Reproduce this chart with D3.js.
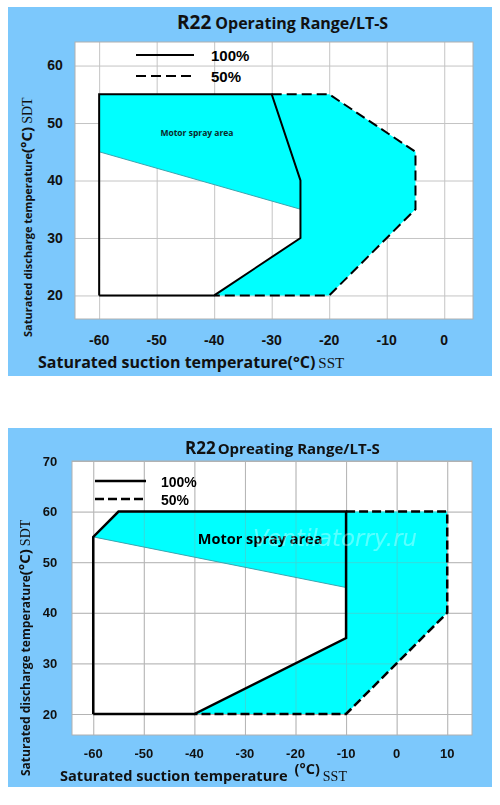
<!DOCTYPE html>
<html>
<head>
<meta charset="utf-8">
<script src="https://cdn.jsdelivr.net/npm/d3@7"></script>
<style>
  body { margin: 0; background: #fff; }
  svg { display: block; }
</style>
</head>
<body>
<div id="chart"></div>
<script>
// ---- top chart data (SST / SDT, °C) ----
const sstTicksTop = [-60, -50, -40, -30, -20, -10, 0];
const sdtTicksTop = [20, 30, 40, 50, 60];
const load100Top = [[-60, 20], [-60, 55], [-30, 55], [-25, 40], [-25, 30], [-40, 20], [-60, 20]];
const load50Top = [[-30, 55], [-20, 55], [-5, 45], [-5, 35], [-20, 20], [-40, 20]];
const sprayTop = [[-60, 45], [-25, 35]];
const cyanTop = [[-60, 55], [-20, 55], [-5, 45], [-5, 35], [-20, 20], [-40, 20], [-25, 30], [-25, 35], [-60, 45]];

// ---- bottom chart data ----
const sstTicksBot = [-60, -50, -40, -30, -20, -10, 0, 10];
const sdtTicksBot = [20, 30, 40, 50, 60, 70];
const load100Bot = [[-60, 20], [-60, 55], [-55, 60], [-10, 60], [-10, 35], [-40, 20], [-60, 20]];
const load50Bot = [[-10, 60], [10, 60], [10, 40], [0, 30], [-10, 20], [-40, 20]];
const sprayBot = [[-60, 55], [-10, 45]];
const cyanBot = [[-60, 55], [-55, 60], [10, 60], [10, 40], [0, 30], [-10, 20], [-40, 20], [-10, 35], [-10, 45]];

const legendLabels = ['100%', '50%'];

const svg = d3.select('#chart').append('svg')
  .attr('width', 500).attr('height', 805);

const BOLD = "'Liberation Sans', Arial, sans-serif";
const UI = "'Open Sans', 'Noto Sans', sans-serif";
const SERIF = "'Liberation Serif', 'DejaVu Serif', serif";

function drawPanel(o) {
  const g = svg.append('g');
  // blue background
  g.append('rect').attr('x', 8).attr('y', o.bgTop).attr('width', 484).attr('height', o.bgH)
    .attr('fill', '#7cc8fc');

  const x = d3.scaleLinear().domain(o.xDom).range([o.left, o.right]);
  const y = d3.scaleLinear().domain(o.yDom).range([o.bottom, o.top]);

  g.append('rect').attr('x', o.left).attr('y', o.top)
    .attr('width', o.right - o.left).attr('height', o.bottom - o.top)
    .attr('fill', '#fff');

  // grid lines (axis ticks stretched across the plot)
  function grid(parent, colour) {
    parent.append('g')
      .attr('transform', `translate(0,${o.bottom})`)
      .call(d3.axisBottom(x).tickValues(o.xTicks).tickSize(-(o.bottom - o.top)).tickFormat(''))
      .call(a => a.select('.domain').remove())
      .call(a => a.selectAll('line').attr('stroke', colour));
    parent.append('g')
      .attr('transform', `translate(${o.left},0)`)
      .call(d3.axisLeft(y).tickValues(o.yTicks).tickSize(-(o.right - o.left)).tickFormat(''))
      .call(a => a.select('.domain').remove())
      .call(a => a.selectAll('line').attr('stroke', colour));
  }
  grid(g.append('g'), '#c4c4c4');

  const line = d3.line().x(d => x(d[0])).y(d => y(d[1]));

  g.append('path').attr('d', line(o.cyan) + 'Z').attr('fill', '#00ffff');
  if (o.gridOver) {
    // grid faintly visible through the fill
    grid(g.append('g').attr('opacity', 0.35), '#999');
  }

  g.append('path').attr('d', line(o.spray)).attr('fill', 'none')
    .attr('stroke', '#3aa6b0').attr('stroke-width', 1);

  g.append('path').attr('d', line(o.l50)).attr('fill', 'none')
    .attr('stroke', '#000').attr('stroke-width', o.lw)
    .attr('stroke-dasharray', o.dash);
  g.append('path').attr('d', line(o.l100)).attr('fill', 'none')
    .attr('stroke', '#000').attr('stroke-width', o.lw).attr('stroke-linejoin', 'miter');

  // plot border
  g.append('rect').attr('x', o.left).attr('y', o.top)
    .attr('width', o.right - o.left).attr('height', o.bottom - o.top)
    .attr('fill', 'none').attr('stroke', '#b0b0b0').attr('stroke-width', 1);

  // tick labels
  g.append('g').selectAll('text').data(o.xTicks).join('text')
    .attr('x', d => x(d)).attr('y', o.xLabelY)
    .attr('text-anchor', 'middle')
    .style('font-family', BOLD).style('font-weight', 'bold').style('font-size', o.tickFs + 'px')
    .attr('fill', '#111').text(d => d);
  g.append('g').selectAll('text').data(o.yTicks).join('text')
    .attr('x', o.yLabelX).attr('y', d => y(d)).attr('dy', '0.35em')
    .attr('text-anchor', 'middle')
    .style('font-family', BOLD).style('font-weight', 'bold').style('font-size', o.tickFs + 'px')
    .attr('fill', '#111').text(d => d);

  // legend
  const lg = g.append('g');
  legendLabels.forEach((lab, i) => {
    const ly = o.legY[i];
    lg.append('line').attr('x1', o.legX1).attr('x2', o.legX2).attr('y1', ly).attr('y2', ly)
      .attr('stroke', '#000').attr('stroke-width', o.lw)
      .attr('stroke-dasharray', i === 1 ? o.dash : null);
    lg.append('text').attr('x', o.legTx).attr('y', ly).attr('dy', '0.4em')
      .style('font-family', BOLD).style('font-weight', 'bold').style('font-size', o.legFs + 'px')
      .text(lab);
  });

  // title
  const t = g.append('text').attr('x', o.titleX).attr('y', o.titleY)
    .style('font-family', UI).style('font-weight', 'bold').attr('fill', '#111');
  t.append('tspan').style('font-size', o.titleFs1 + 'px').text('R22');
  t.append('tspan').attr('dx', o.titleGap).style('font-size', o.titleFs2 + 'px').text(o.title);

  // spray label
  g.append('text').attr('x', x(o.sprayLab[0])).attr('y', y(o.sprayLab[1]))
    .attr('text-anchor', 'middle')
    .style('font-family', UI).style('font-weight', 'bold').style('font-size', o.sprayFs + 'px')
    .attr('fill', o.sprayCol).text('Motor spray area');

  // x axis title
  const xt = g.append('text').attr('x', o.xTitleX).attr('y', o.xTitleY)
    .style('font-family', UI).style('font-weight', 'bold').attr('fill', '#111');
  xt.append('tspan').style('font-size', o.xTitleFs + 'px').text('Saturated suction temperature');
  xt.append('tspan').attr('dx', o.xUnitDx).attr('dy', o.xUnitDy).style('font-size', o.xUnitFs + 'px').text('(°C)');
  xt.append('tspan').attr('dx', 3).attr('dy', -o.xUnitDy).style('font-family', SERIF).style('font-weight', 'normal')
    .style('font-size', o.xSerFs + 'px').text('SST');

  // y axis title (rotated)
  const yt = g.append('text')
    .attr('transform', `translate(${o.yTitleX},${o.yTitleY}) rotate(-90)`)
    .style('font-family', UI).style('font-weight', 'bold').attr('fill', '#111');
  yt.append('tspan').style('font-size', o.yTitleFs + 'px').text('Saturated discharge temperature');
  yt.append('tspan').style('font-size', o.yUnitFs + 'px').text('(°C)');
  yt.append('tspan').attr('dx', 3).style('font-family', SERIF).style('font-weight', 'normal')
    .style('font-size', o.ySerFs + 'px').text('SDT');

  return { x, y };
}

// top panel
drawPanel({
  bgTop: 7, bgH: 369,
  left: 75, right: 473, top: 42, bottom: 319,
  xDom: [-64.2, 5], yDom: [15.9, 64.1],
  xTicks: sstTicksTop, yTicks: sdtTicksTop,
  cyan: cyanTop, l100: load100Top, l50: load50Top, spray: sprayTop,
  gridOver: false, lw: 2, dash: '10,5',
  xLabelY: 345, yLabelX: 55, tickFs: 14,
  legX1: 136, legX2: 194, legY: [55, 76], legTx: 211, legFs: 15,
  title: 'Operating Range/LT-S', titleX: 177, titleY: 29, titleFs1: 19, titleFs2: 16, titleGap: 4,
  sprayLab: [-43, 47.8], sprayFs: 8.5, sprayCol: '#0b2b2b',
  xTitleX: 38, xTitleY: 368, xTitleFs: 16,
  xUnitDx: 0, xUnitDy: 0, xUnitFs: 16, xSerFs: 15,
  yTitleX: 32, yTitleY: 337, yTitleFs: 11, yUnitFs: 15, ySerFs: 14
});

// bottom panel
drawPanel({
  bgTop: 428, bgH: 359,
  left: 72, right: 472, top: 461, bottom: 735,
  xDom: [-64.2, 14.9], yDom: [15.85, 70],
  xTicks: sstTicksBot, yTicks: sdtTicksBot,
  cyan: cyanBot, l100: load100Bot, l50: load50Bot, spray: sprayBot,
  gridOver: true, lw: 2.5, dash: '9,4',
  xLabelY: 758, yLabelX: 50, tickFs: 13,
  legX1: 95, legX2: 146, legY: [481, 499], legTx: 161, legFs: 14,
  title: 'Opreating Range/LT-S', titleX: 185, titleY: 454, titleFs1: 17, titleFs2: 15, titleGap: 2,
  sprayLab: [-27, 53.6], sprayFs: 14.5, sprayCol: '#000',
  xTitleX: 60, xTitleY: 781, xTitleFs: 14.6,
  xUnitDx: 7, xUnitDy: -7, xUnitFs: 14.5, xSerFs: 14,
  yTitleX: 30, yTitleY: 776, yTitleFs: 12, yUnitFs: 15, ySerFs: 14
});

// faint watermark on the lower chart
svg.append('text').attr('x', 253).attr('y', 546)
  .style('font-family', "'DejaVu Sans', sans-serif").style('font-style', 'italic')
  .style('font-size', '23px').attr('fill', '#fff').attr('fill-opacity', 0.35)
  .text('Ventilatorry.ru');
</script>
</body>
</html>
